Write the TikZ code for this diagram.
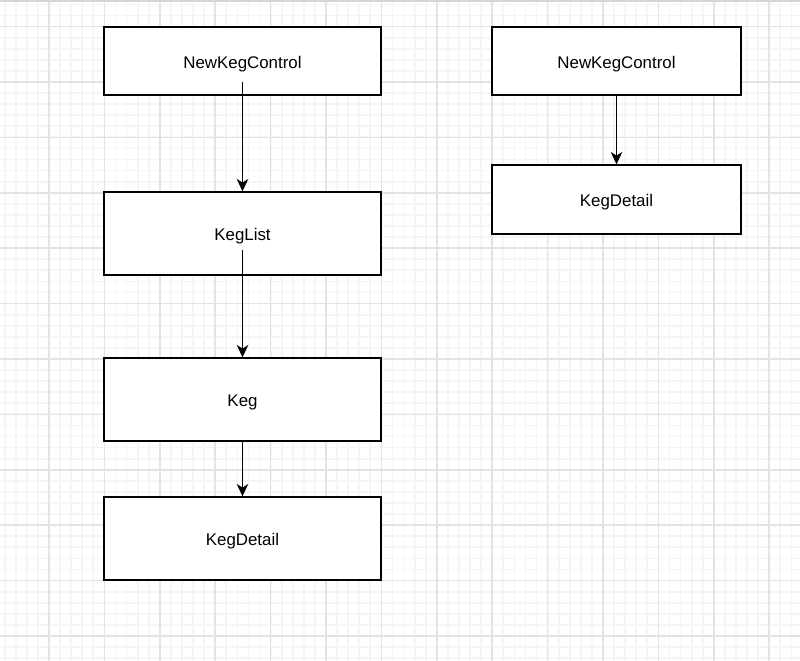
\documentclass[tikz,border=0pt]{standalone}
\usepackage{fontspec}
\setmainfont{Liberation Sans}
\usetikzlibrary{arrows.meta}

\tikzset{
  box/.style={draw, line width=0.75pt, fill=white, minimum width=5.54cm, text height=8pt, text depth=0pt, font=\fontsize{9.6}{11}\selectfont},
  arr/.style={line width=0.75pt, -{Stealth[length=7pt, width=6.5pt, inset=2pt]}},
}

\begin{document}
\begin{tikzpicture}[x=0.02cm, y=-0.02cm] % 1 unit = 1 pixel, y downwards
  \useasboundingbox (0,0) rectangle (800,661);
  \fill[white] (0,0) rectangle (800,661);
  % grid
  \foreach \i in {0,...,72} \draw[black!4, line width=1pt] (4.7+\i*11.08,0)--(4.7+\i*11.08,661);
  \foreach \i in {0,...,59} \draw[black!4, line width=1pt] (0,4.4+\i*11.08)--(800,4.4+\i*11.08);
  \foreach \i in {0,...,14} \draw[black!11, line width=1pt] (49+\i*55.4,0)--(49+\i*55.4,661);
  \foreach \i in {0,...,11} \draw[black!11, line width=1pt] (0,26.6+\i*55.4)--(800,26.6+\i*55.4);
  \draw[black!16, line width=1pt] (0,1)--(800,1); % top edge

  % left column
  \node[box, minimum height=1.36cm] (ctlA) at (242.5,61) {NewKegControl};
  \node[box, minimum height=1.66cm] (list) at (242.5,233.5) {KegList};
  \node[box, minimum height=1.66cm] (keg) at (242.5,399.5) {Keg};
  \node[box, minimum height=1.66cm] (detA) at (242.5,538.5) {KegDetail};
  % right column
  \node[box, minimum width=4.98cm, minimum height=1.36cm] (ctlB) at (616.5,61) {NewKegControl};
  \node[box, minimum width=4.98cm, minimum height=1.38cm] (detB) at (616.5,199.5) {KegDetail};

  \draw[arr] ([yshift=-0.42cm]ctlA.center) -- (list.north);
  \draw[arr] ([yshift=-0.33cm]list.center) -- (keg.north);
  \draw[arr] (keg.south) -- (detA.north);
  \draw[arr] (ctlB.south) -- (detB.north);
\end{tikzpicture}
\end{document}
